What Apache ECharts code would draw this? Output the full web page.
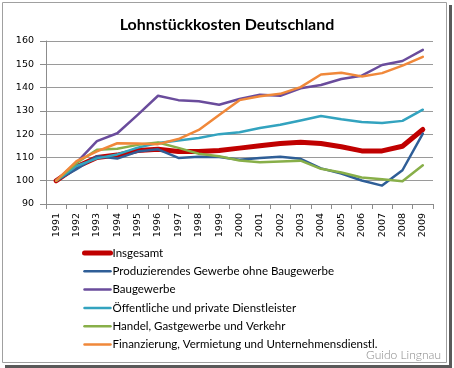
<!DOCTYPE html>
<html>
<head>
<meta charset="utf-8">
<script src="https://cdn.jsdelivr.net/npm/echarts@6/dist/echarts.min.js"></script>
<style>
html,body{margin:0;padding:0;background:#fff;}
#c{width:454px;height:368px;}
</style>
</head>
<body>
<div id="c"></div>
<script>
const years = ['1991','1992','1993','1994','1995','1996','1997','1998','1999','2000','2001','2002','2003','2004','2005','2006','2007','2008','2009'];
const yTicks = [90, 100, 110, 120, 130, 140, 150, 160];
const seriesNames = [
  'Insgesamt',
  'Produzierendes Gewerbe ohne Baugewerbe',
  'Baugewerbe',
  'Öffentliche und private Dienstleister',
  'Handel, Gastgewerbe und Verkehr',
  'Finanzierung, Vermietung und Unternehmensdienstl.'
];
const insgesamt   = [100, 106, 110, 111, 113, 113.5, 112.5, 112.5, 113, 114, 115, 116, 116.5, 116, 114.6, 112.8, 112.8, 114.8, 122];
const produzierend = [100, 105, 110.5, 109.5, 112.5, 113.5, 109.8, 110.3, 110.2, 109, 109.8, 110.3, 109.4, 105.3, 103.1, 100.1, 97.9, 104.5, 120.2];
const baugewerbe  = [100, 107.8, 117, 120.4, 128.3, 136.5, 134.6, 134.1, 132.6, 135.1, 136.9, 136.5, 139.7, 141.1, 143.7, 145.1, 149.7, 151.4, 156.2];
const dienstleister = [100, 106.3, 109.6, 111.3, 114.2, 116.2, 117.3, 118.3, 120, 120.8, 122.6, 124, 125.9, 127.8, 126.4, 125.2, 124.8, 125.7, 130.5];
const handel      = [100, 107.6, 113.3, 113.7, 115.4, 116.4, 114.1, 111.6, 110.5, 108.7, 107.9, 108.2, 108.6, 105.1, 103.5, 101.4, 100.6, 99.8, 106.6];
const finanz      = [100, 108.4, 112.6, 116.1, 116, 115.7, 117.9, 121.8, 128.2, 134.6, 136.3, 137.3, 140.2, 145.6, 146.4, 144.8, 146.2, 149.4, 153.2];
const allValues = [insgesamt, produzierend, baugewerbe, dienstleister, handel, finanz];
const colors = ['#C00000', '#2F5E97', '#6A4C9C', '#33A3BF', '#88AF49', '#F0883A'];
const widths = [5, 2.5, 2.5, 2.5, 2.5, 2.5];

const chart = echarts.init(document.getElementById('c'), null, {renderer: 'canvas'});
chart.setOption({
  animation: false,
  backgroundColor: '#fff',
  title: {
    text: 'Lohnstückkosten Deutschland',
    left: 'center',
    top: 12,
    textStyle: {fontFamily: 'Lato', fontWeight: 'bold', fontSize: 16, color: '#000'}
  },
  grid: {left: 46, right: 21, top: 41, bottom: 164, containLabel: false},
  xAxis: {
    type: 'category',
    data: years,
    boundaryGap: true,
    axisLine: {lineStyle: {color: '#8c8c8c', width: 1}},
    axisTick: {show: true, length: 5, lineStyle: {color: '#8c8c8c'}},
    axisLabel: {rotate: 90, margin: 9, fontFamily: 'DejaVu Sans', fontSize: 9.5, color: '#000', interval: 0}
  },
  yAxis: {
    type: 'value',
    min: yTicks[0],
    max: yTicks[yTicks.length - 1],
    interval: 10,
    axisLine: {show: true, lineStyle: {color: '#8c8c8c', width: 1}},
    axisTick: {show: true, length: 6, lineStyle: {color: '#8c8c8c'}},
    axisLabel: {margin: 12, fontFamily: 'DejaVu Sans', fontSize: 9.5, color: '#000'},
    splitLine: {lineStyle: {color: '#9a9a9a', width: 1}}
  },
  legend: {
    orient: 'vertical',
    left: 82,
    top: 245,
    itemWidth: 26,
    itemHeight: 14,
    itemGap: 2.3,
    padding: 0,
    lineStyle: {width: 'inherit'},
    itemStyle: {opacity: 0},
    textStyle: {fontFamily: 'Lato', fontSize: 11.5, color: '#000', padding: [0, 0, 0, -3], height: 16, lineHeight: 16},
    data: seriesNames
  },
  series: allValues.map((vals, i) => ({
    name: seriesNames[i],
    type: 'line',
    data: vals,
    symbol: 'none',
    smooth: false,
    lineStyle: {color: colors[i], width: widths[i], cap: 'round', join: 'round'},
    itemStyle: {color: colors[i]}
  })),
  graphic: [
    {type: 'rect', shape: {x: 449, y: 5, width: 3, height: 362}, style: {fill: '#5a5a5a'}, silent: true},
    {type: 'rect', shape: {x: 5, y: 365, width: 447, height: 3}, style: {fill: '#5a5a5a'}, silent: true},
    {type: 'rect', shape: {x: 2.5, y: 2.5, width: 444, height: 360}, style: {fill: null, stroke: '#a0a0a0', lineWidth: 1}, silent: true},
    {type: 'text', right: 13, top: 349, style: {text: 'Guido Lingnau', fontFamily: 'Lato', fontWeight: 300, fontSize: 12, fill: '#8a8a8a'}, silent: true}
  ]
});
</script>
</body>
</html>
